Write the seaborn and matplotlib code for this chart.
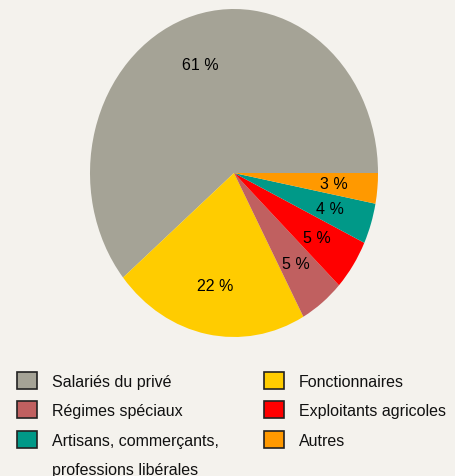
import matplotlib
matplotlib.use("Agg")
import matplotlib.pyplot as plt
from matplotlib.patches import Patch
import seaborn as sns

# Répartition par régime (%)
categories = ["Salariés du privé", "Fonctionnaires", "Régimes spéciaux",
              "Exploitants agricoles", "Artisans, commerçants,", "Autres"]
values = [61, 22, 5, 5, 4, 3]
colors = ["#a5a396", "#ffcc00", "#c06060", "#ff0000", "#009988", "#ff9900"]

# legend columns (order as in the picture)
legend_left = ["Salariés du privé", "Régimes spéciaux", "Artisans, commerçants,", "professions libérales"]
legend_right = ["Fonctionnaires", "Exploitants agricoles", "Autres"]

bg = "#f4f2ed"
sns.set_theme(style="white")
plt.rcParams["font.family"] = ["Liberation Sans", "DejaVu Sans"]

fig = plt.figure(figsize=(4.56, 4.77), dpi=100, facecolor=bg)
ax = fig.add_axes([90 / 456, 1 - 338 / 477, 288 / 456, 328 / 477])
ax.set_facecolor(bg)

palette = sns.color_palette(colors)
wedges, texts, autotexts = ax.pie(
    values, colors=palette, startangle=0, counterclock=True,
    autopct=lambda p: f"{p:.0f} %", pctdistance=0.7,
    wedgeprops=dict(linewidth=0),
    textprops=dict(fontsize=11.5, color="black"))
ax.set_aspect("auto")
ax.set_xlim(-1, 1)
ax.set_ylim(-1, 1)
ax.axis("off")

col = dict(zip(categories, colors))

def handle(name):
    if name in col:
        return Patch(facecolor=col[name], edgecolor="#222222", linewidth=1.2)
    return Patch(facecolor="none", edgecolor="none")

leg_kw = dict(frameon=False, fontsize=11.5, handlelength=1.25, handleheight=1.25,
              handletextpad=0.95, labelspacing=0.78, borderpad=0, borderaxespad=0,
              loc="upper left")
l1 = fig.legend([handle(n) for n in legend_left], legend_left,
                bbox_to_anchor=(17 / 456, 1 - 373 / 477), **leg_kw)
l2 = fig.legend([handle(n) for n in legend_right], legend_right,
                bbox_to_anchor=(264 / 456, 1 - 373 / 477), **leg_kw)
for lg in (l1, l2):
    for t in lg.get_texts():
        t.set_color("#111111")

fig.savefig("out.png", dpi=100, facecolor=bg)
